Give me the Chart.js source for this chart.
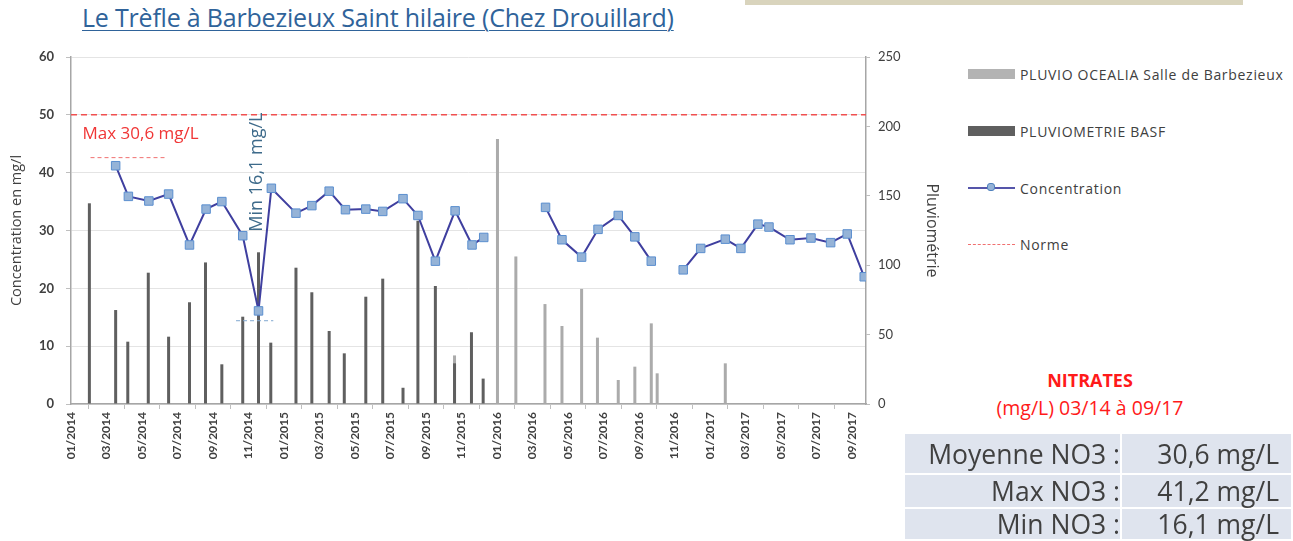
<!DOCTYPE html>
<html lang="fr">
<head>
<meta charset="utf-8">
<title>Le Trèfle à Barbezieux Saint hilaire</title>
<script src="https://cdn.jsdelivr.net/npm/chart.js@4.4.1/dist/chart.umd.min.js"></script>
<style>
  body { margin: 0; width: 1293px; height: 541px; background: #fff; position: relative; overflow: hidden; font-family: "Open Sans", Lato, sans-serif; color: #404040; }
  #topbar { position: absolute; left: 745px; top: 0; width: 498px; height: 5px; background: #d9d4bd; }
  #title { position: absolute; left: 82px; top: 0; font-size: 25px; color: #2f639a; text-decoration: underline; text-underline-offset: 3px; text-decoration-thickness: 1px; white-space: nowrap; letter-spacing: -0.2px; }
  #wrap { position: absolute; left: 0; top: 0; width: 945px; height: 470px; }
  #legend { position: absolute; left: 968px; top: 0; font-size: 14px; letter-spacing: 0.7px; color: #404040; }
  .item { position: absolute; left: 0; height: 14px; white-space: nowrap; display: flex; align-items: center; }
  .sw { width: 47px; height: 10px; margin-right: 5px; }
  .ln { width: 47px; height: 2px; margin-right: 5px; position: relative; }
  .ln i { position: absolute; left: 19px; top: -4px; width: 8px; height: 8px; background: #95b3d7; border: 1px solid #4f81bd; border-radius: 3px; box-sizing: border-box; }
  .dash { width: 47px; height: 0; border-top: 1.5px dashed #f07070; margin-right: 5px; }
  #nitr { position: absolute; left: 975px; top: 366px; width: 230px; text-align: center; color: #ff1a1a; font-size: 19.5px; line-height: 28px; }
  #nitr b { font-weight: 700; font-size: 18px; }
  #stats { position: absolute; left: 905px; top: 432px; border-collapse: collapse; font-size: 26.5px; line-height: 28px; color: #404040; }
  #stats td { background: #dfe4ee; padding: 0 12px 0 0; text-align: right; vertical-align: middle; border: 2px solid #fff; border-left: 0; }
  #stats td.l { width: 215px; padding-right: 0; }
  #stats td.v { width: 157px; }
</style>
</head>
<body>
<div id="topbar"></div>
<div id="title">Le Trèfle à Barbezieux Saint hilaire (Chez Drouillard)</div>
<div id="wrap"><canvas id="chart"></canvas></div>
<div id="legend"></div>
<div id="nitr"><b>NITRATES</b><br>(mg/L) 03/14 à 09/17</div>
<table id="stats"></table>
<script>
// axis tick labels, one every two months from 01/2014
const tickLabels = ['01/2014', '03/2014', '05/2014', '07/2014', '09/2014', '11/2014',
  '01/2015', '03/2015', '05/2015', '07/2015', '09/2015', '11/2015',
  '01/2016', '03/2016', '05/2016', '07/2016', '09/2016', '11/2016',
  '01/2017', '03/2017', '05/2017', '07/2017', '09/2017'];

// nitrate concentration (mg/l), null = no sampling (line break)
const concDates = ['2014-03-17', '2014-04-08', '2014-05-13', '2014-06-16', '2014-07-22', '2014-08-20',
  '2014-09-16', '2014-10-22', '2014-11-18', '2014-12-10', '2015-01-22', '2015-02-17',
  '2015-03-18', '2015-04-15', '2015-05-20', '2015-06-18', '2015-07-23', '2015-08-18',
  '2015-09-17', '2015-10-21', '2015-11-19', '2015-12-09', '2016-02-01',
  '2016-03-24', '2016-04-21', '2016-05-25', '2016-06-22', '2016-07-27', '2016-08-25',
  '2016-09-22', '2016-10-20',
  '2016-11-16', '2016-12-16', '2017-01-28', '2017-02-22', '2017-03-23', '2017-04-11',
  '2017-05-17', '2017-06-22', '2017-07-26', '2017-08-24', '2017-09-22'];
const concValues = [41.2, 35.9, 35.1, 36.3, 27.5, 33.7,
  35.0, 29.1, 16.1, 37.3, 33.0, 34.3,
  36.8, 33.6, 33.7, 33.3, 35.5, 32.6,
  24.7, 33.4, 27.5, 28.8, null,
  34.0, 28.4, 25.4, 30.2, 32.6, 28.9,
  24.7, null,
  23.2, 26.9, 28.5, 26.9, 31.1, 30.6,
  28.4, 28.7, 27.9, 29.4, 22.0];

// rainfall BASF station (mm)
const basfDates = ['2014-02-02', '2014-03-17', '2014-04-07', '2014-05-12', '2014-06-16', '2014-07-22',
  '2014-08-19', '2014-09-16', '2014-10-22', '2014-11-18', '2014-12-09', '2015-01-22',
  '2015-02-17', '2015-03-18', '2015-04-13', '2015-05-20', '2015-06-18', '2015-07-23',
  '2015-08-18', '2015-09-17', '2015-10-20', '2015-11-18', '2015-12-08'];
const basfValues = [144.6, 67.7, 44.9, 94.6, 48.5, 73.3,
  102, 28.6, 62.9, 109.3, 44.2, 98.2,
  80.5, 52.6, 36.5, 77.3, 90.3, 11.7,
  132, 85, 29.3, 51.7, 18.3];

// rainfall OCEALIA Salles de Barbezieux (mm)
const oceaDates = ['2015-10-20', '2016-01-02', '2016-02-03', '2016-03-23', '2016-04-21', '2016-05-25',
  '2016-06-21', '2016-07-27', '2016-08-25', '2016-09-22', '2016-10-02', '2017-01-28'];
const oceaValues = [35, 191, 106.3, 72, 56.2, 82.9,
  47.8, 17.3, 26.9, 58.1, 22.1, 29.3];

const normeValue = 50;
const seriesLabels = ['PLUVIO OCEALIA Salle de Barbezieux', 'PLUVIOMETRIE BASF', 'Concentration', 'Norme'];
const statLabels = ['Moyenne NO3 :', 'Max NO3 :', 'Min NO3 :'];
const statValues = ['30,6 mg/L', '41,2 mg/L', '16,1 mg/L'];

// months since 01/2014
function monthIndex(d) {
  const [y, m, day] = d.split('-').map(Number);
  const dim = new Date(y, m, 0).getDate();
  return (y - 2014) * 12 + (m - 1) + (day - 1) / dim;
}
const pts = (dates, vals) => dates.map((d, i) => ({ x: monthIndex(d), y: vals[i] }));

const xMax = 44.8;
const fontFam = '"Open Sans", Lato, sans-serif';
const tickFam = 'Lato, "Open Sans", sans-serif';

const notes = {
  id: 'notes',
  afterDatasetsDraw(chart) {
    const { ctx, scales: { x, y } } = chart;
    ctx.save();
    // max marker
    ctx.strokeStyle = '#f07070';
    ctx.lineWidth = 1;
    ctx.setLineDash([4, 3]);
    ctx.beginPath();
    ctx.moveTo(x.getPixelForValue(1.1), y.getPixelForValue(42.6));
    ctx.lineTo(x.getPixelForValue(5.3), y.getPixelForValue(42.6));
    ctx.stroke();
    // min marker
    ctx.strokeStyle = '#7fa7d0';
    ctx.beginPath();
    ctx.moveTo(x.getPixelForValue(9.3), y.getPixelForValue(14.4));
    ctx.lineTo(x.getPixelForValue(11.4), y.getPixelForValue(14.4));
    ctx.stroke();
    ctx.setLineDash([]);
    ctx.font = '17px ' + fontFam;
    ctx.fillStyle = '#f03535';
    ctx.textBaseline = 'middle';
    ctx.fillText('Max 30,6 mg/L', x.getPixelForValue(0.65), y.getPixelForValue(46.7));
    ctx.translate(x.getPixelForValue(10.5), y.getPixelForValue(40.1));
    ctx.rotate(-Math.PI / 2);
    ctx.textAlign = 'center';
    ctx.fillStyle = '#3d6a8a';
    ctx.font = '18px ' + fontFam;
    ctx.fillText('Min 16,1 mg/L', 0, 0);
    ctx.restore();
  }
};

Chart.defaults.font.family = tickFam;
Chart.defaults.color = '#404040';

const chart = new Chart(document.getElementById('chart'), {
  type: 'bar',
  data: {
    datasets: [
      {
        type: 'line', label: seriesLabels[2], data: pts(concDates, concValues), yAxisID: 'y', order: 0,
        borderColor: '#3f3f9f', borderWidth: 2, spanGaps: false, tension: 0,
        pointStyle: 'rect', pointRadius: 6, pointBackgroundColor: '#95b3d7', pointBorderColor: '#5b8fcf', pointBorderWidth: 1
      },
      {
        type: 'line', label: seriesLabels[3], data: [{ x: 0, y: normeValue }, { x: xMax, y: normeValue }], yAxisID: 'y', order: 1,
        borderColor: '#f05050', borderWidth: 1.5, borderDash: [6, 4], pointRadius: 0
      },
      {
        label: seriesLabels[1], data: pts(basfDates, basfValues), yAxisID: 'y2', order: 2,
        backgroundColor: '#5f5f5f', grouped: false, maxBarThickness: 3
      },
      {
        label: seriesLabels[0], data: pts(oceaDates, oceaValues), yAxisID: 'y2', order: 3,
        backgroundColor: '#ababab', grouped: false, maxBarThickness: 3
      }
    ]
  },
  options: {
    responsive: true,
    maintainAspectRatio: false,
    animation: false,
    layout: { padding: { top: 57, left: 0, right: 0, bottom: 0 } },
    plugins: { legend: { display: false }, tooltip: { enabled: false } },
    scales: {
      x: {
        type: 'linear', min: 0, max: xMax, offset: false,
        afterFit: s => { s.height = 66; },
        border: { color: '#a6a6a6', width: 1.5 },
        grid: { drawOnChartArea: false, tickLength: 5, color: '#bfbfbf' },
        ticks: {
          stepSize: 2, includeBounds: false, autoSkip: false, maxRotation: 90, minRotation: 90, padding: 3,
          font: { size: 12, weight: 'bold' },
          callback: v => tickLabels[v / 2]
        }
      },
      y: {
        position: 'left', min: 0, max: 60,
        afterFit: s => { s.width = 71; },
        border: { color: '#a6a6a6', width: 1.5 },
        grid: { color: '#e4e4e4', tickLength: 5, tickColor: '#bfbfbf' },
        ticks: { stepSize: 10, padding: 12, font: { size: 13, weight: 'bold' } },
        title: { display: true, text: 'Concentration en mg/l', font: { size: 14.5, family: fontFam }, padding: { top: 8, bottom: 4 } }
      },
      y2: {
        position: 'right', min: 0, max: 250,
        afterFit: s => { s.width = 79; },
        border: { color: '#a6a6a6', width: 1.5 },
        grid: { drawOnChartArea: false, tickLength: 4, color: '#bfbfbf' },
        ticks: { stepSize: 50, padding: 8, font: { size: 13 } },
        title: { display: true, text: 'Pluviométrie', font: { size: 16, family: fontFam }, padding: { top: 4, bottom: 4 } }
      }
    }
  },
  plugins: [notes]
});

// legend
const legend = document.getElementById('legend');
const marks = [
  '<span class="sw" style="background:#b3b3b3"></span>',
  '<span class="sw" style="background:#5f5f5f"></span>',
  '<span class="ln" style="background:#5555aa"><i></i></span>',
  '<span class="dash"></span>'
];
const legendY = [67, 124, 181, 237];
seriesLabels.forEach((lab, i) => {
  const d = document.createElement('div');
  d.className = 'item';
  d.style.top = legendY[i] + 'px';
  d.innerHTML = marks[i] + '<span>' + lab + '</span>';
  legend.appendChild(d);
});

// stats table
const table = document.getElementById('stats');
const rowH = [41, 34, 32];
statLabels.forEach((lab, i) => {
  const tr = document.createElement('tr');
  tr.style.height = rowH[i] + 'px';
  tr.innerHTML = '<td class="l">' + lab + '</td><td class="v">' + statValues[i] + '</td>';
  table.appendChild(tr);
});
</script>
</body>
</html>
